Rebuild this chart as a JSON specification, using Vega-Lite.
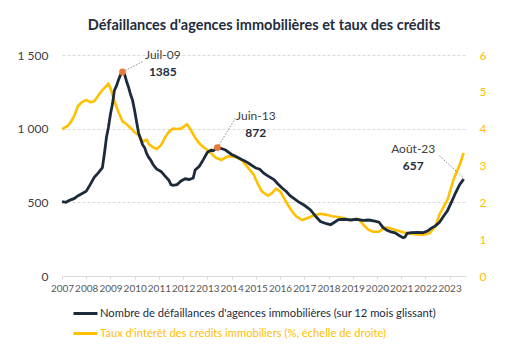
{
  "$schema": "https://vega.github.io/schema/vega-lite/v6.json",
  "width": 404,
  "height": 221,
  "autosize": {"type": "none"},
  "padding": {"left": 62, "top": 55, "right": 52, "bottom": 83},
  "background": "white",
  "title": {"text": "Défaillances d'agences immobilières et taux des crédits", "font": "Lato", "fontSize": 14.5, "fontWeight": "bold", "color": "#1F2D3D", "anchor": "middle", "offset": 15},
  "config": {"view": {"stroke": null}, "font": "Lato"},
  "datasets": {
    "defaillances": [
      {"date": "2007-01-01", "nombre": 505}, {"date": "2007-03-01", "nombre": 500}, {"date": "2007-05-01", "nombre": 515},
      {"date": "2007-07-01", "nombre": 525}, {"date": "2007-09-01", "nombre": 545}, {"date": "2007-11-01", "nombre": 560},
      {"date": "2008-01-01", "nombre": 575}, {"date": "2008-03-01", "nombre": 620}, {"date": "2008-05-01", "nombre": 670},
      {"date": "2008-07-01", "nombre": 700}, {"date": "2008-09-01", "nombre": 735}, {"date": "2008-10-01", "nombre": 830},
      {"date": "2008-11-01", "nombre": 940}, {"date": "2008-12-01", "nombre": 1010}, {"date": "2009-01-01", "nombre": 1100},
      {"date": "2009-02-01", "nombre": 1170}, {"date": "2009-03-01", "nombre": 1260}, {"date": "2009-04-01", "nombre": 1290},
      {"date": "2009-05-01", "nombre": 1330}, {"date": "2009-06-01", "nombre": 1365}, {"date": "2009-07-01", "nombre": 1385},
      {"date": "2009-08-01", "nombre": 1370}, {"date": "2009-09-01", "nombre": 1320}, {"date": "2009-10-01", "nombre": 1280},
      {"date": "2009-11-01", "nombre": 1230}, {"date": "2009-12-01", "nombre": 1190}, {"date": "2010-01-01", "nombre": 1120},
      {"date": "2010-02-01", "nombre": 1040}, {"date": "2010-03-01", "nombre": 970}, {"date": "2010-04-01", "nombre": 930},
      {"date": "2010-05-01", "nombre": 890}, {"date": "2010-06-01", "nombre": 870}, {"date": "2010-07-01", "nombre": 830},
      {"date": "2010-08-01", "nombre": 805}, {"date": "2010-09-01", "nombre": 785}, {"date": "2010-10-01", "nombre": 760},
      {"date": "2010-11-01", "nombre": 740}, {"date": "2010-12-01", "nombre": 725}, {"date": "2011-02-01", "nombre": 710},
      {"date": "2011-04-01", "nombre": 680}, {"date": "2011-06-01", "nombre": 650}, {"date": "2011-07-01", "nombre": 620},
      {"date": "2011-08-01", "nombre": 615}, {"date": "2011-10-01", "nombre": 620}, {"date": "2011-12-01", "nombre": 645},
      {"date": "2012-02-01", "nombre": 660}, {"date": "2012-04-01", "nombre": 655}, {"date": "2012-06-01", "nombre": 665},
      {"date": "2012-07-01", "nombre": 720}, {"date": "2012-09-01", "nombre": 745}, {"date": "2012-11-01", "nombre": 790},
      {"date": "2013-01-01", "nombre": 840}, {"date": "2013-03-01", "nombre": 855}, {"date": "2013-04-01", "nombre": 850},
      {"date": "2013-06-01", "nombre": 872}, {"date": "2013-08-01", "nombre": 865}, {"date": "2013-10-01", "nombre": 855},
      {"date": "2014-01-01", "nombre": 825}, {"date": "2014-03-01", "nombre": 812}, {"date": "2014-06-01", "nombre": 790},
      {"date": "2014-08-01", "nombre": 778}, {"date": "2014-10-01", "nombre": 760}, {"date": "2015-01-01", "nombre": 733},
      {"date": "2015-03-01", "nombre": 725}, {"date": "2015-05-01", "nombre": 698}, {"date": "2015-07-01", "nombre": 680},
      {"date": "2015-10-01", "nombre": 654}, {"date": "2015-12-01", "nombre": 625}, {"date": "2016-02-01", "nombre": 597},
      {"date": "2016-04-01", "nombre": 575}, {"date": "2016-06-01", "nombre": 545}, {"date": "2016-08-01", "nombre": 525},
      {"date": "2016-10-01", "nombre": 505}, {"date": "2017-01-01", "nombre": 480}, {"date": "2017-04-01", "nombre": 450},
      {"date": "2017-07-01", "nombre": 400}, {"date": "2017-09-01", "nombre": 370}, {"date": "2017-12-01", "nombre": 355},
      {"date": "2018-02-01", "nombre": 348}, {"date": "2018-04-01", "nombre": 365}, {"date": "2018-06-01", "nombre": 383},
      {"date": "2018-09-01", "nombre": 385}, {"date": "2018-12-01", "nombre": 380}, {"date": "2019-03-01", "nombre": 385},
      {"date": "2019-06-01", "nombre": 378}, {"date": "2019-09-01", "nombre": 380}, {"date": "2019-12-01", "nombre": 372},
      {"date": "2020-02-01", "nombre": 365}, {"date": "2020-04-01", "nombre": 330}, {"date": "2020-06-01", "nombre": 310},
      {"date": "2020-08-01", "nombre": 300}, {"date": "2020-10-01", "nombre": 293}, {"date": "2020-12-01", "nombre": 275},
      {"date": "2021-02-01", "nombre": 260}, {"date": "2021-03-01", "nombre": 265}, {"date": "2021-04-01", "nombre": 290},
      {"date": "2021-06-01", "nombre": 295}, {"date": "2021-09-01", "nombre": 296}, {"date": "2021-12-01", "nombre": 295},
      {"date": "2022-02-01", "nombre": 305}, {"date": "2022-04-01", "nombre": 325}, {"date": "2022-06-01", "nombre": 340},
      {"date": "2022-08-01", "nombre": 365}, {"date": "2022-10-01", "nombre": 405}, {"date": "2022-12-01", "nombre": 445},
      {"date": "2023-02-01", "nombre": 505}, {"date": "2023-04-01", "nombre": 565}, {"date": "2023-06-01", "nombre": 620},
      {"date": "2023-08-01", "nombre": 657}
    ],
    "taux": [
      {"date": "2007-01-01", "taux": 3.99}, {"date": "2007-04-01", "taux": 4.08}, {"date": "2007-05-01", "taux": 4.15},
      {"date": "2007-07-01", "taux": 4.33}, {"date": "2007-09-01", "taux": 4.62}, {"date": "2007-11-01", "taux": 4.72},
      {"date": "2008-01-01", "taux": 4.78}, {"date": "2008-03-01", "taux": 4.72}, {"date": "2008-05-01", "taux": 4.74},
      {"date": "2008-07-01", "taux": 4.9}, {"date": "2008-09-01", "taux": 5.05}, {"date": "2008-12-01", "taux": 5.22},
      {"date": "2009-01-01", "taux": 5.1}, {"date": "2009-03-01", "taux": 4.75}, {"date": "2009-05-01", "taux": 4.45},
      {"date": "2009-07-01", "taux": 4.2}, {"date": "2009-09-01", "taux": 4.12}, {"date": "2009-11-01", "taux": 4.02},
      {"date": "2010-01-01", "taux": 3.9}, {"date": "2010-03-01", "taux": 3.82}, {"date": "2010-05-01", "taux": 3.65},
      {"date": "2010-07-01", "taux": 3.7}, {"date": "2010-08-01", "taux": 3.58}, {"date": "2010-10-01", "taux": 3.5},
      {"date": "2010-12-01", "taux": 3.45}, {"date": "2011-02-01", "taux": 3.55}, {"date": "2011-04-01", "taux": 3.75},
      {"date": "2011-06-01", "taux": 3.92}, {"date": "2011-08-01", "taux": 4.0}, {"date": "2011-10-01", "taux": 3.99},
      {"date": "2011-12-01", "taux": 4.0}, {"date": "2012-03-01", "taux": 4.12}, {"date": "2012-05-01", "taux": 3.95},
      {"date": "2012-07-01", "taux": 3.75}, {"date": "2012-09-01", "taux": 3.6}, {"date": "2012-11-01", "taux": 3.5},
      {"date": "2013-02-01", "taux": 3.38}, {"date": "2013-05-01", "taux": 3.22}, {"date": "2013-08-01", "taux": 3.15},
      {"date": "2013-11-01", "taux": 3.25}, {"date": "2014-03-01", "taux": 3.23}, {"date": "2014-06-01", "taux": 3.15},
      {"date": "2014-09-01", "taux": 2.95}, {"date": "2014-12-01", "taux": 2.75}, {"date": "2015-02-01", "taux": 2.5},
      {"date": "2015-04-01", "taux": 2.3}, {"date": "2015-07-01", "taux": 2.18}, {"date": "2015-09-01", "taux": 2.25},
      {"date": "2015-11-01", "taux": 2.37}, {"date": "2016-01-01", "taux": 2.3}, {"date": "2016-03-01", "taux": 2.12},
      {"date": "2016-05-01", "taux": 1.92}, {"date": "2016-07-01", "taux": 1.75}, {"date": "2016-09-01", "taux": 1.62},
      {"date": "2016-12-01", "taux": 1.52}, {"date": "2017-03-01", "taux": 1.58}, {"date": "2017-06-01", "taux": 1.65},
      {"date": "2017-09-01", "taux": 1.69}, {"date": "2017-12-01", "taux": 1.66}, {"date": "2018-03-01", "taux": 1.62},
      {"date": "2018-06-01", "taux": 1.6}, {"date": "2018-09-01", "taux": 1.56}, {"date": "2018-12-01", "taux": 1.52},
      {"date": "2019-03-01", "taux": 1.55}, {"date": "2019-05-01", "taux": 1.48}, {"date": "2019-07-01", "taux": 1.35},
      {"date": "2019-09-01", "taux": 1.25}, {"date": "2019-11-01", "taux": 1.2}, {"date": "2020-02-01", "taux": 1.2},
      {"date": "2020-04-01", "taux": 1.28}, {"date": "2020-06-01", "taux": 1.32}, {"date": "2020-09-01", "taux": 1.27},
      {"date": "2020-12-01", "taux": 1.22}, {"date": "2021-03-01", "taux": 1.17}, {"date": "2021-06-01", "taux": 1.15},
      {"date": "2021-09-01", "taux": 1.13}, {"date": "2021-12-01", "taux": 1.12}, {"date": "2022-03-01", "taux": 1.16},
      {"date": "2022-06-01", "taux": 1.35}, {"date": "2022-08-01", "taux": 1.67}, {"date": "2022-12-01", "taux": 2.07},
      {"date": "2023-03-01", "taux": 2.62}, {"date": "2023-06-01", "taux": 3.02}, {"date": "2023-08-01", "taux": 3.34}
    ],
    "annotations": [
      {"label": "Juil-09", "num": "1385", "tdate": "2011-03-01", "tvalue": 1446, "ax": "2009-07-01", "ay": 1385, "bx": "2010-05-01", "by": 1455},
      {"label": "Juin-13", "num": "872", "tdate": "2015-01-01", "tvalue": 1033, "ax": "2013-06-01", "ay": 872, "bx": "2014-03-01", "by": 1072},
      {"label": "Août-23", "num": "657", "tdate": "2021-07-01", "tvalue": 810, "ax": "2022-08-01", "ay": 816, "bx": "2023-08-01", "by": 665}
    ],
    "peaks": [
      {"date": "2009-07-01", "nombre": 1385},
      {"date": "2013-06-01", "nombre": 872}
    ]
  },
  "layer": [
    {
      "data": {"name": "taux"},
      "mark": {"type": "line", "strokeWidth": 2.6},
      "encoding": {
        "x": {"field": "date", "type": "temporal", "scale": {"domain": ["2007-01-01", "2023-09-05"], "nice": false}},
        "y": {"field": "taux", "type": "quantitative", "scale": {"domain": [0, 6], "nice": false},
          "axis": {"orient": "right", "title": null, "values": [0, 1, 2, 3, 4, 5, 6], "grid": false, "domain": false, "ticks": false, "tickSize": 0, "labelPadding": 13, "labelFontSize": 12, "labelColor": "#FFC000", "labelFont": "Lato"}},
        "color": {"datum": "Taux d'intérêt des crédits immobiliers (%, échelle de droite)"}
      }
    },
    {
      "layer": [
        {
          "data": {"name": "defaillances"},
          "mark": {"type": "line", "strokeWidth": 2.8},
          "encoding": {
            "x": {"field": "date", "type": "temporal",
              "scale": {"domain": ["2007-01-01", "2023-09-05"], "nice": false},
              "axis": {"title": null, "format": "%Y", "tickCount": {"interval": "year", "step": 1}, "labelOverlap": false, "labelFlush": false, "labelAngle": 0, "labelDx": 3, "grid": false, "domainColor": "#D9D9D9", "tickColor": "#D9D9D9", "tickSize": 3, "labelPadding": 4, "labelFontSize": 10, "labelColor": "#595959", "labelFont": "Lato"}},
            "y": {"field": "nombre", "type": "quantitative", "scale": {"domain": [0, 1500], "nice": false},
              "axis": {"orient": "left", "title": null, "values": [0, 250, 500, 750, 1000, 1250, 1500], "labelExpr": "replace(format(datum.value, ','), ',', ' ')", "grid": true, "gridColor": "#D9D9D9", "gridDash": [3, 2], "domain": false, "ticks": false, "tickSize": 0, "labelPadding": 14, "labelFontSize": 12, "labelColor": "#404040", "labelFont": "Lato"}},
            "color": {"datum": "Nombre de défaillances d'agences immobilières (sur 12 mois glissant)",
              "scale": {"domain": ["Nombre de défaillances d'agences immobilières (sur 12 mois glissant)", "Taux d'intérêt des crédits immobiliers (%, échelle de droite)"], "range": ["#1C2B3C", "#FFC000"]},
              "legend": {"orient": "none", "legendX": 10, "legendY": 245, "direction": "vertical", "title": null, "symbolType": "stroke", "symbolStrokeWidth": 3, "symbolSize": 576, "labelFontSize": 11.2, "labelFont": "Lato", "rowPadding": 0, "labelOffset": 1, "labelLimit": 500,
                "encode": {"labels": {"update": {"fill": {"signal": "datum.index === 0 ? '#1C2B3C' : '#FFC000'"}}}}}}
          }
        },
        {
          "data": {"name": "annotations"},
          "mark": {"type": "rule", "strokeDash": [1.5, 1.5], "color": "#8C8C8C", "strokeWidth": 1},
          "encoding": {
            "x": {"field": "ax", "type": "temporal"},
            "y": {"field": "ay", "type": "quantitative", "scale": {"domain": [0, 1500], "nice": false}},
            "x2": {"field": "bx"},
            "y2": {"field": "by"}
          }
        },
        {
          "data": {"name": "peaks"},
          "mark": {"type": "point", "filled": true, "size": 45, "color": "#E8793A", "opacity": 1},
          "encoding": {
            "x": {"field": "date", "type": "temporal"},
            "y": {"field": "nombre", "type": "quantitative", "scale": {"domain": [0, 1500], "nice": false}}
          }
        },
        {
          "data": {"name": "annotations"},
          "mark": {"type": "text", "dy": -8, "fontSize": 12, "color": "#404040", "font": "Lato"},
          "encoding": {
            "x": {"field": "tdate", "type": "temporal"},
            "y": {"field": "tvalue", "type": "quantitative", "scale": {"domain": [0, 1500], "nice": false}},
            "text": {"field": "label"}
          }
        },
        {
          "data": {"name": "annotations"},
          "mark": {"type": "text", "dy": 9, "fontSize": 12, "fontWeight": "bold", "color": "#1F2D3D", "font": "Lato"},
          "encoding": {
            "x": {"field": "tdate", "type": "temporal"},
            "y": {"field": "tvalue", "type": "quantitative", "scale": {"domain": [0, 1500], "nice": false}},
            "text": {"field": "num"}
          }
        }
      ]
    }
  ],
  "resolve": {"scale": {"y": "independent"}}
}
